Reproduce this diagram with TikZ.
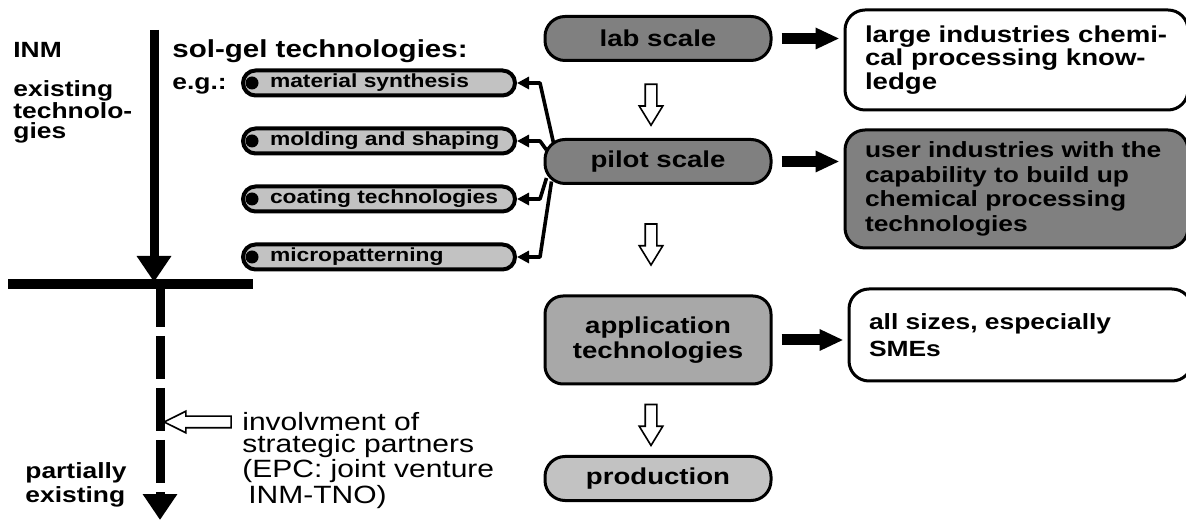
\documentclass[tikz,border=0pt]{standalone}
\usepackage{fontspec}
\setmainfont{Liberation Sans}[FakeStretch=1.2]
\usepackage{tikz}
\usetikzlibrary{positioning, shapes.arrows, arrows.meta}
\definecolor{darkfill}{rgb}{0.5, 0.5, 0.5}
\definecolor{midfill}{rgb}{0.66, 0.66, 0.66}
\definecolor{lightfill}{rgb}{0.76, 0.76, 0.76}

\begin{document}
\begin{tikzpicture}[
			stage/.style={draw, line width=1.5pt, rounded corners=10pt, minimum width=113pt, minimum height=22pt, inner sep=2pt, align=center, font=\fontsize{11.5}{12.5}\selectfont\bfseries},
			industry/.style={draw, line width=1.5pt, rounded corners=10pt, fill=white, text width=151.5pt, inner xsep=10pt, align=left},
			techPill/.style={draw, line width=2pt, fill=lightfill, rounded corners=6.25pt, minimum height=12.5pt, inner xsep=7pt, inner ysep=0pt, text width=122pt, align=left, font=\fontsize{9.5}{10}\selectfont\bfseries},
			techDot/.style={circle, fill=black, minimum size=6.5pt, inner sep=0pt},
			heading/.style={inner sep=0pt, align=left, font=\fontsize{11}{11}\selectfont\bfseries},
			plain/.style={inner sep=0pt, align=left, font=\fontsize{12.5}{11}\selectfont},
			mainArrow/.style={line width=4.5pt, -{Triangle[length=13pt,width=16.5pt]}},
			bigArrow/.style={line width=5.5pt, shorten <=4.5pt, shorten >=2pt, -{Triangle[length=12pt,width=10pt]}},
			fanArrow/.style={line width=1.8pt, line join=round, -{Triangle[length=6pt,width=6pt]}},
			downArrow/.style={single arrow, draw, fill=white, line width=0.8pt, minimum height=20.5pt, inner xsep=2.5pt, inner ysep=0pt, single arrow head extend=3pt, single arrow tip angle=63, shape border rotate=270, xshift=-3.5pt},
			leftArrow/.style={single arrow, draw, fill=white, line width=0.8pt, minimum height=33.5pt, inner xsep=0pt, inner ysep=2.5pt, single arrow head extend=2.5pt, single arrow tip angle=53, shape border rotate=180},
			]
			\useasboundingbox (0,0) rectangle (593pt,-261pt);
			
			% stages
			\node[stage, fill=darkfill] (labScale) at (329pt,-19.25pt) {lab scale};
			\node[stage, fill=darkfill, below=38pt of labScale] (pilotScale) {pilot scale};
			\node[stage, fill=midfill, minimum height=44pt, rounded corners=9pt, below=54.75pt of pilotScale] (appTech) {application\\technologies};
			\node[stage, fill=lightfill, below=34.75pt of appTech] (production) {production};
			
			\path (labScale.south) -- node[downArrow] (arrowLabPilot) {} (pilotScale.north);
			\path (pilotScale.south) -- node[downArrow] (arrowPilotApp) {} (appTech.north);
			\path (appTech.south) -- node[downArrow] (arrowAppProd) {} (production.north);
			
			% industries
			\node[industry, right=35.5pt of labScale, yshift=-10.75pt, minimum height=50pt, font=\fontsize{11.5}{10.5}\selectfont\bfseries] (largeBox) {large industries chemi-\\cal processing know-\\ledge};
			\node[industry, fill=darkfill, right=35.5pt of pilotScale, yshift=-13.75pt, minimum height=59pt, font=\fontsize{11}{12.3}\selectfont\bfseries] (userBox) {user industries with the\\capability to build up\\chemical processing\\technologies};
			\node[industry, right=37.5pt of appTech, yshift=2.5pt, minimum height=46pt, font=\fontsize{11}{13.3}\selectfont\bfseries] (smeBox) {all sizes, especially\\SMEs};
			
			\draw[bigArrow] (labScale.east) -- (labScale.east -| largeBox.west);
			\draw[bigArrow] (pilotScale.east) -- (pilotScale.east -| userBox.west);
			\draw[bigArrow] (appTech.east) -- (appTech.east -| smeBox.west);
			
			% sol-gel technologies
			\node[heading, font=\fontsize{12.3}{12}\selectfont\bfseries, anchor=base west] (solgelText) at (86pt,-29pt) {sol-gel technologies:};
			\node[techPill] (pillSynthesis) at (189.5pt,-41.5pt) {\hspace*{6.5pt}material synthesis};
			\node[techPill, below=14.5pt of pillSynthesis] (pillMolding) {\hspace*{6.5pt}molding and shaping};
			\node[techPill, below=14.5pt of pillMolding] (pillCoating) {\hspace*{6.5pt}coating technologies};
			\node[techPill, below=14.5pt of pillCoating] (pillPatterning) {\hspace*{6.5pt}micropatterning};
			\foreach \p in {Synthesis,Molding,Coating,Patterning}
			{\node[techDot] (dot\p) at ([xshift=5.5pt]pill\p.west) {};}
			\node[heading, anchor=west] (egText) at ([yshift=-1.5pt]solgelText.west |- pillSynthesis) {e.g.:};
			
			\draw[fanArrow] ([shift={(5pt,9.25pt)}]pilotScale.west) -- ([xshift=11.5pt]pillSynthesis.east) -- (pillSynthesis.east);
			\draw[fanArrow] ([shift={(1.5pt,5.75pt)}]pilotScale.west) -- ([xshift=11.5pt]pillMolding.east) -- (pillMolding.east);
			\draw[fanArrow] ([shift={(1.5pt,-8.25pt)}]pilotScale.west) -- ([xshift=11.5pt]pillCoating.east) -- (pillCoating.east);
			\draw[fanArrow] ([shift={(4pt,-10pt)}]pilotScale.west) -- ([xshift=11.5pt]pillPatterning.east) -- (pillPatterning.east);
			
			% INM time line
			\node[heading, anchor=base west] (inmText) at (6.5pt,-29pt) {INM};
			\node[heading, font=\fontsize{11}{10}\selectfont\bfseries, anchor=north west] (existText) at (6.5pt,-40pt) {existing\\technolo-\\gies};
			\node[heading, font=\fontsize{11}{12}\selectfont\bfseries, anchor=north west] (partialText) at (12.5pt,-231pt) {partially\\existing};
			
			\coordinate (inmTop) at (77pt,-15pt);
			\coordinate (inmTip) at (77pt,-141pt);
			\coordinate (inmCross) at (80pt,-142pt);
			\coordinate (inmBottom) at (80pt,-260pt);
			\coordinate (barLeft) at (4pt,-142pt);
			\coordinate (barRight) at (126.5pt,-142pt);
			\draw[line width=5pt] (barLeft) -- (barRight);
			\draw[mainArrow] (inmTop) -- (inmTip);
			\draw[mainArrow, dash pattern=on 21.5pt off 4.5pt] (inmCross) -- (inmBottom);
			
			% partners
			\node[plain, anchor=north west] (partnerText) at (121pt,-206pt) {involvment of\\strategic partners\\(EPC: joint venture\\\hspace*{3pt}INM-TNO)};
			\node[leftArrow] (partnerArrow) at (101.75pt,-211pt) {};
			
		\end{tikzpicture}
\end{document}
